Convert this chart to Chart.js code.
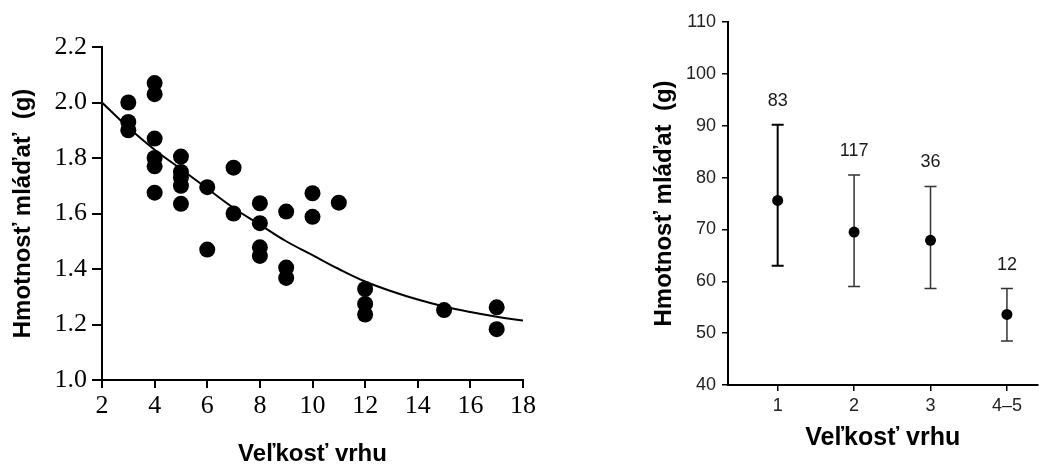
<!DOCTYPE html>
<html><head><meta charset="utf-8">
<script src="https://cdn.jsdelivr.net/npm/chart.js@4.4.1/dist/chart.umd.min.js"></script>
<style>
html,body{margin:0;padding:0;background:#fff;width:1043px;height:466px;overflow:hidden;}
#c1{position:absolute;left:0;top:0;}
#c2{position:absolute;left:620px;top:0;}
</style></head><body>
<canvas id="c1" width="560" height="480"></canvas>
<canvas id="c2" width="423" height="466"></canvas>
<script>
// ---- Left chart data ----
const litterSize = [3,3,3,4,4,4,4,4,4,5,5,5,5,5,6,6,7,7,8,8,8,8,9,9,9,10,10,11,12,12,12,15,17,17];
const pupMass = [2.00,1.93,1.90,2.07,2.03,1.87,1.80,1.77,1.675,1.805,1.75,1.73,1.70,1.635,1.695,1.47,1.765,1.60,1.637,1.565,1.478,1.447,1.607,1.405,1.368,1.673,1.588,1.639,1.328,1.274,1.236,1.252,1.262,1.183];
const curveX = [2,3,4,5,6,7,8,9,10,11,12,13,14,15,16,17,18];
const curveY = [2.00,1.91,1.83,1.76,1.69,1.62,1.56,1.50,1.45,1.40,1.355,1.32,1.29,1.265,1.245,1.228,1.214];

// ---- Right chart data ----
const categories = ['1','2','3','4\u20135'];
const catPos = [1,2,3,4];
const meanMass = [75.6,69.5,67.9,53.6];
const upperBar = [90.2,80.5,78.3,58.6];
const lowerBar = [63.0,59.0,58.6,48.5];
const nLitters = [83,117,36,12];

const titleLeft = 'Hmotnos\u0165 ml\u00e1\u010fa\u0165  (g)';
const titleRight = 'Hmotnos\u0165 ml\u00e1\u010fat  (g)';
const xTitle = 'Ve\u013ekos\u0165 vrhu';

const serif = '"Liberation Serif", "Times New Roman", serif';
const sans = '"Liberation Sans", Arial, sans-serif';

new Chart(document.getElementById('c1'), {
  type: 'scatter',
  data: {
    datasets: [
      { type:'line', data: curveX.map((x,i)=>({x:x,y:curveY[i]})), borderColor:'#000', borderWidth:2, pointRadius:0, tension:0.4, fill:false },
      { data: litterSize.map((x,i)=>({x:x,y:pupMass[i]})), backgroundColor:'#000', borderColor:'#000', pointRadius:8, pointBorderWidth:0 }
    ]
  },
  options: {
    responsive:false, animation:false,
    layout:{padding:{top:47,right:37,left:0,bottom:0}},
    plugins:{legend:{display:false}, tooltip:{enabled:false}},
    scales:{
      x:{ type:'linear', min:2, max:18,
        afterFit:s=>{s.height=100;},
        ticks:{stepSize:2, font:{family:serif,size:26}, color:'#000', padding:3},
        grid:{drawOnChartArea:false, drawTicks:true, tickLength:8, color:'#000', lineWidth:2},
        border:{display:true, color:'#000', width:2},
        title:{display:true, text:xTitle, font:{family:sans,size:24,weight:'bold'}, color:'#000', padding:{top:0,bottom:11}}
      },
      y:{ min:1.0, max:2.2,
        afterFit:s=>{s.width=102;},
        ticks:{stepSize:0.2, font:{family:serif,size:26}, color:'#000', padding:5, callback:v=>Number(v).toFixed(1)},
        grid:{drawOnChartArea:false, drawTicks:true, tickLength:10, color:'#000', lineWidth:2},
        border:{display:true, color:'#000', width:2},
        title:{display:true, text:titleLeft, font:{family:sans,size:24,weight:'bold'}, color:'#000', padding:{top:9,bottom:0}}
      }
    }
  }
});

const errPlugin = {
  id:'errbars',
  beforeDatasetsDraw(chart){
    const {ctx, scales:{x,y}} = chart;
    ctx.save();
    catPos.forEach((c,i)=>{
      const px = x.getPixelForValue(c);
      const yt = y.getPixelForValue(upperBar[i]);
      const yb = y.getPixelForValue(lowerBar[i]);
      ctx.strokeStyle = i===0 ? '#000' : '#333';
      ctx.lineWidth = i===0 ? 2 : 1.5;
      ctx.beginPath();
      ctx.moveTo(px,yt); ctx.lineTo(px,yb);
      ctx.moveTo(px-6,yt); ctx.lineTo(px+6,yt);
      ctx.moveTo(px-6,yb); ctx.lineTo(px+6,yb);
      ctx.stroke();
      ctx.fillStyle = '#1a1a1a';
      ctx.font = '18px ' + sans;
      ctx.textAlign = 'center';
      ctx.textBaseline = 'middle';
      ctx.fillText(String(nLitters[i]), px, yt - 24);
    });
    ctx.restore();
  }
};

new Chart(document.getElementById('c2'), {
  type: 'scatter',
  data: {
    datasets: [
      { data: catPos.map((x,i)=>({x:x,y:meanMass[i]})), backgroundColor:'#000', borderColor:'#000', pointRadius:5.5, pointBorderWidth:0 }
    ]
  },
  plugins:[errPlugin],
  options: {
    responsive:false, animation:false,
    layout:{padding:{top:22,right:3,left:0,bottom:0}},
    plugins:{legend:{display:false}, tooltip:{enabled:false}},
    scales:{
      x:{ type:'linear', min:0.35, max:4.4,
        afterFit:s=>{s.height=81;},
        afterBuildTicks:s=>{s.ticks = catPos.map(v=>({value:v}));},
        ticks:{font:{family:sans,size:18}, color:'#222', padding:4, callback:(v,i)=>categories[i]},
        grid:{drawOnChartArea:false, drawTicks:true, tickLength:6, color:'#000', lineWidth:1.5},
        border:{display:true, color:'#000', width:2},
        title:{display:true, text:xTitle, font:{family:sans,size:25,weight:'bold'}, color:'#000', padding:{top:0,bottom:13}}
      },
      y:{ min:40, max:110,
        afterFit:s=>{s.width=108;},
        ticks:{stepSize:10, font:{family:sans,size:18}, color:'#222', padding:6},
        grid:{drawOnChartArea:false, drawTicks:true, tickLength:6, color:'#000', lineWidth:1.5},
        border:{display:true, color:'#000', width:2},
        title:{display:true, text:titleRight, font:{family:sans,size:24,weight:'bold'}, color:'#000', padding:{top:30,bottom:0}}
      }
    }
  }
});
</script>
</body></html>
